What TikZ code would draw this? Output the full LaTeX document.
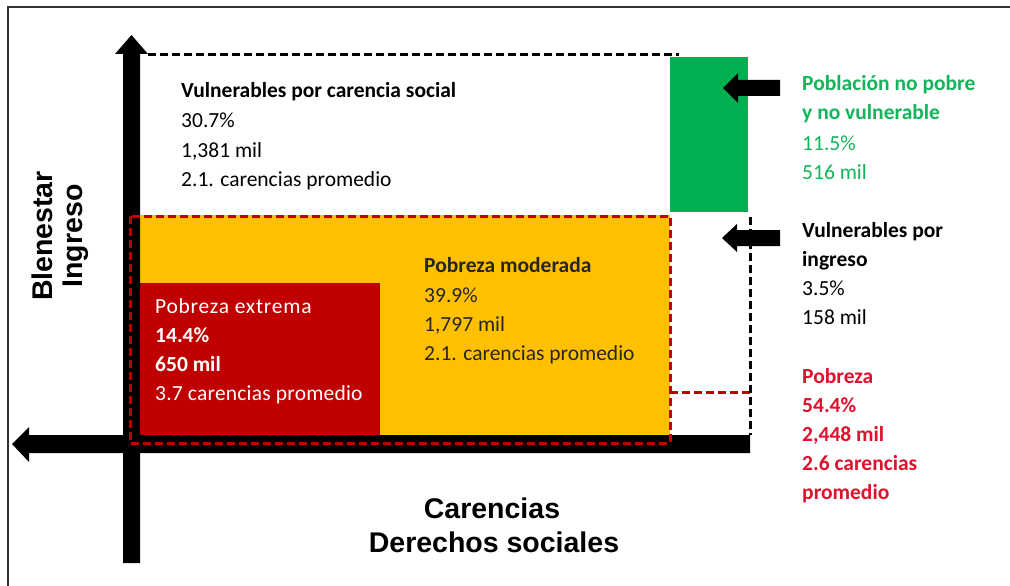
\documentclass[tikz,border=0pt]{standalone}
\usepackage{fontspec}
\setmainfont{Carlito}
\newfontfamily\axisfont{Liberation Sans}
\definecolor{cgreen}{RGB}{0,176,80}
\definecolor{corange}{RGB}{255,192,0}
\definecolor{cdred}{RGB}{192,0,0}
\definecolor{ctred}{RGB}{222,18,45}
\definecolor{cframe}{RGB}{50,50,50}
\definecolor{ctgreen}{RGB}{20,180,90}
\tikzset{
  txt/.style={anchor=base west, inner sep=0pt, font=\fontsize{21.5}{26}\selectfont},
  txtb/.style={txt, font=\fontsize{21.5}{26}\selectfont\bfseries},
  axlbl/.style={anchor=base, inner sep=0pt, font=\axisfont\fontsize{28.5}{30}\selectfont\bfseries},
  bdash/.style={draw=black, line width=3pt, dash pattern=on 8pt off 4pt},
  rdash/.style={draw=cdred, line width=3pt, dash pattern=on 8pt off 4pt},
  blockarrow/.style={fill=black}
}
\begin{document}
\begin{tikzpicture}[x=1pt,y=-1pt]
\useasboundingbox (0,0) rectangle (1010,586);
\fill[white] (0,0) rectangle (1010,586);
% frame
\draw[cframe, line width=2pt] (8,586) -- (8,7) -- (1010,7);
% coloured areas
\fill[corange] (140,215) rectangle (670,435);
\fill[cdred] (140,283) rectangle (380,435);
\fill[cgreen] (670,57) rectangle (748,212);
% black dashed outline
\draw[bdash] (148,55) -- (679,55);
% axes
\fill (750,435) -- (29,435) -- (29,427) -- (12,444) -- (29,462) -- (29,453) -- (750,453) -- cycle;
\fill (123,563) -- (123,54) -- (115,54) -- (131.5,35) -- (148,54) -- (140,54) -- (140,563) -- cycle;
% red dashed poverty box
\draw[rdash] (130,216) rectangle (670,443);
\draw[rdash] (670,392) -- (750,392);
% pointer arrows
\fill[blockarrow] (723,88) -- (738,73) -- (738,80) -- (780,80) -- (780,96) -- (738,96) -- (738,103) -- cycle;
\fill[blockarrow] (722,238) -- (737,224) -- (737,230) -- (780,230) -- (780,246) -- (737,246) -- (737,252) -- cycle;
\draw[bdash] (750,217) -- (750,435);
% vulnerables por carencia social
\node[txtb] (vc1) at (181,97) {Vulnerables por carencia social};
\node[txt] (vc2) at (181,127) {30.7\%};
\node[txt] (vc3) at (181,157) {1,381 mil};
\node[txt] (vc4) at (181,186) {2.1. carencias promedio};
% poblacion no pobre
\node[txtb, text=ctgreen] (np1) at (802,91) {Población no pobre};
\node[txtb, text=ctgreen] (np2) at (802,120) {y no vulnerable};
\node[txt, text=ctgreen] (np3) at (802,150) {11.5\%};
\node[txt, text=ctgreen] (np4) at (802,179) {516 mil};
% vulnerables por ingreso
\node[txtb] (vi1) at (802,237) {Vulnerables por};
\node[txtb] (vi2) at (802,266) {ingreso};
\node[txt] (vi3) at (802,295) {3.5\%};
\node[txt] (vi4) at (802,324) {158 mil};
% pobreza
\node[txtb, text=ctred] (po1) at (802,383) {Pobreza};
\node[txtb, text=ctred] (po2) at (802,412) {54.4\%};
\node[txtb, text=ctred] (po3) at (802,441) {2,448 mil};
\node[txtb, text=ctred] (po4) at (802,470) {2.6 carencias};
\node[txtb, text=ctred] (po5) at (802,499) {promedio};
% pobreza moderada
\node[txtb, text=black!85] (pm1) at (424,272) {Pobreza moderada};
\node[txt, text=black!85] (pm2) at (424,302) {39.9\%};
\node[txt, text=black!85] (pm3) at (424,331) {1,797 mil};
\node[txt, text=black!85] (pm4) at (424,360) {2.1. carencias promedio};
% pobreza extrema
\node[txt, text=white] (pe1) at (155,313) {\addfontfeatures{LetterSpace=3.5}Pobreza extrema};
\node[txtb, text=white] (pe2) at (155,342) {14.4\%};
\node[txtb, text=white] (pe3) at (155,371) {650 mil};
\node[txt, text=white] (pe4) at (155,400) {\addfontfeatures{LetterSpace=1}3.7 carencias promedio};
% axis labels
\node[axlbl, rotate=90] (ax1) at (52,236) {Blenestar};
\node[axlbl, rotate=90] (ax2) at (82,236) {Ingreso};
\node[axlbl] (ax3) at (492,518) {Carencias};
\node[axlbl] (ax4) at (494,552) {Derechos sociales};
\end{tikzpicture}
\end{document}
